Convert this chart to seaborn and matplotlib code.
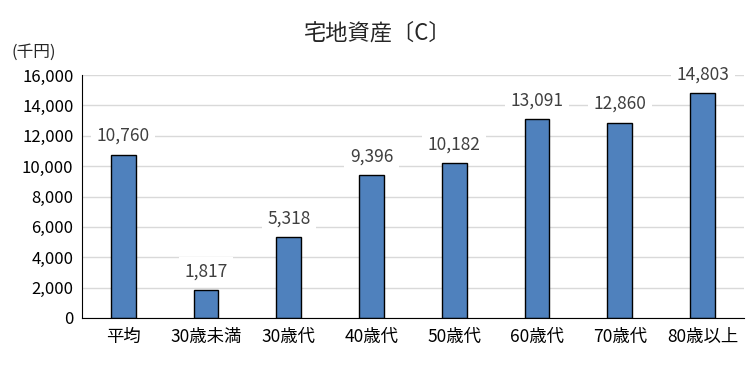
import matplotlib
matplotlib.use("Agg")
import matplotlib.pyplot as plt
import seaborn as sns
import pandas as pd

categories = ["平均", "30歳未満", "30歳代", "40歳代", "50歳代", "60歳代", "70歳代", "80歳以上"]
values = [10760, 1817, 5318, 9396, 10182, 13091, 12860, 14803]
yticks = [0, 2000, 4000, 6000, 8000, 10000, 12000, 14000, 16000]

sns.set_style("white")
plt.rcParams['font.family'] = ['Noto Sans CJK JP', 'DejaVu Sans']

df = pd.DataFrame({"cat": categories, "val": values})
fig = plt.figure(figsize=(7.5, 3.68), dpi=100)
ax = fig.add_axes([0.109, 0.136, 0.883, 0.660])
sns.barplot(data=df, x="cat", y="val", color="#4f81bd", width=0.3,
            edgecolor="black", linewidth=1.0, ax=ax, saturation=1)
ax.set_ylim(0, 16000)
ax.set_xlim(-0.5, len(categories) - 0.5)
ax.set_yticks(yticks)
ax.set_yticklabels([f"{v:,}" for v in yticks], fontsize=12, color="black")
ax.tick_params(axis='x', labelsize=12.5, colors="black", length=0, pad=7)
ax.tick_params(axis='y', length=0, pad=6)
ax.yaxis.grid(True, color="#d9d9d9", linewidth=1)
ax.set_axisbelow(True)
for s in ["top", "right"]:
    ax.spines[s].set_visible(False)
ax.spines["left"].set_color("black")
ax.spines["bottom"].set_color("black")
ax.set_xlabel("")
ax.set_ylabel("")
for i, v in enumerate(values):
    ax.annotate(f"{v:,}", (i, v), xytext=(0, 7), textcoords="offset points",
                ha="center", va="bottom", fontsize=12.5, color="#404040",
                bbox=dict(facecolor="white", edgecolor="none", pad=4))
fig.text(0.503, 0.91, "宅地資産〔C〕", ha="center", va="center", fontsize=16)
fig.text(0.015, 0.857, "(千円)", ha="left", va="center", fontsize=12)
fig.savefig("out.png", dpi=100)
